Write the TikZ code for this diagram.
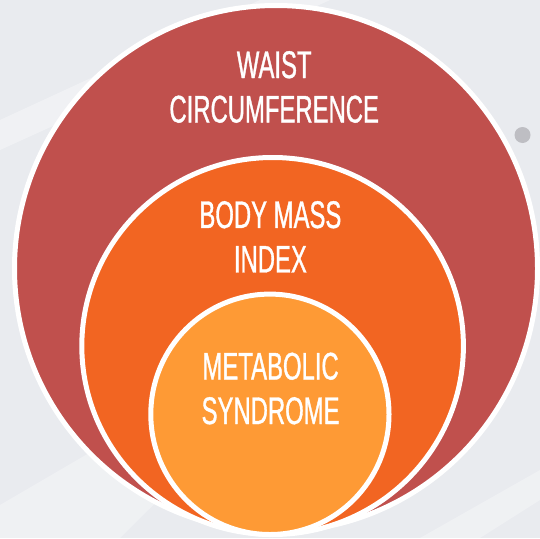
\documentclass[tikz,border=0pt]{standalone}
\usepackage{fontspec}
\newfontfamily\condfont[FakeStretch=0.62,FakeBold=0.9]{Liberation Sans}
\definecolor{bgc}{HTML}{E9EBEF}
\definecolor{wcred}{HTML}{C0504D}
\definecolor{bmiorange}{HTML}{F26522}
\definecolor{mslight}{HTML}{FE9A35}
\definecolor{dotgray}{HTML}{BEBEC3}
\tikzset{
  ring/.style={draw=white, line width=5pt},
  label/.style={text=white, align=center, inner sep=0pt,
    font=\condfont\fontsize{38.5}{44.5}\selectfont}
}
\begin{document}
\begin{tikzpicture}[x=1pt,y=-1pt]
  \useasboundingbox (0,0) rectangle (540,538);
  % background
  \fill[bgc] (0,0) rectangle (540,538);
  \fill[white, opacity=0.35] (0,150) -- (0,120) -- (260,-0) -- (330,0) -- cycle;
  \fill[white, opacity=0.3] (0,540) -- (0,505) -- (300,330) -- (360,300) -- (120,538) -- cycle;
  \fill[white, opacity=0.3] (420,538) -- (540,470) -- (540,500) -- (480,538) -- cycle;
  \fill[dotgray] (522.5,135) circle (8);
  % circles
  \draw[ring, fill=wcred] (276,268.5) ellipse (261.5 and 263);
  \draw[ring, fill=bmiorange] (272.6,346) ellipse (190.8 and 188.5);
  \draw[ring, fill=mslight] (269.9,414.3) ellipse (119.1 and 120.2);
  % labels
  \node[label] (wc) at (274.2,87) {WAIST\\CIRCUMFERENCE};
  \node[label] (bmi) at (270.4,236.8) {BODY MASS\\INDEX};
  \node[label] (ms) at (270.6,388.5) {METABOLIC\\SYNDROME};
\end{tikzpicture}
\end{document}
